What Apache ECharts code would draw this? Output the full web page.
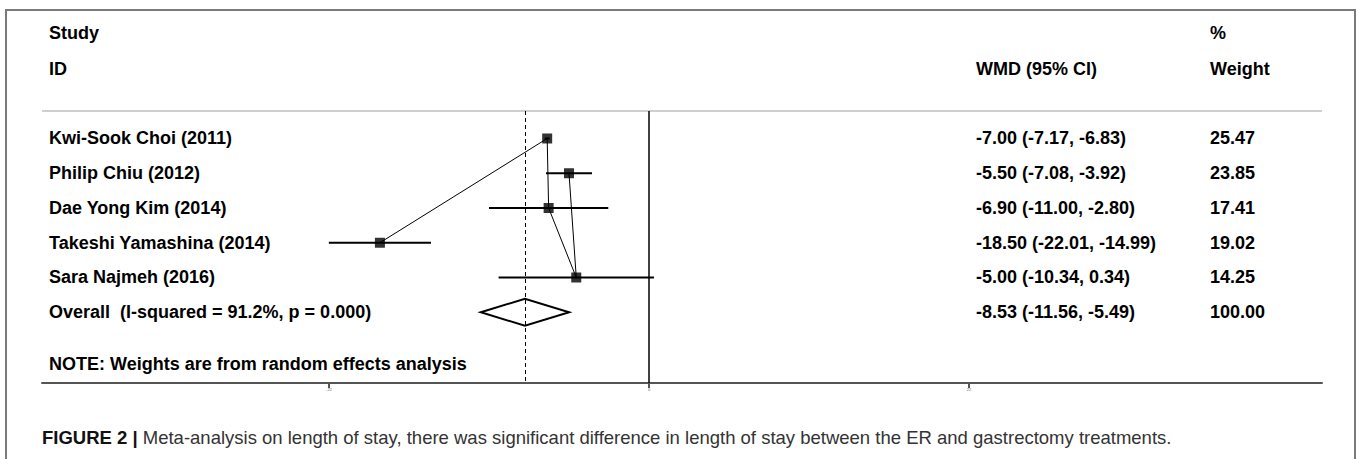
<!DOCTYPE html>
<html>
<head>
<meta charset="utf-8">
<title>Forest plot - length of stay</title>
<script src="https://cdn.jsdelivr.net/npm/echarts@6/dist/echarts.min.js"></script>
<style>
html, body { margin: 0; padding: 0; background: #fff; }
#main { width: 1357px; height: 459px; }
</style>
</head>
<body>
<div id="main"></div>
<script>
// studies, top to bottom
var studies = ['Kwi-Sook Choi (2011)', 'Philip Chiu (2012)', 'Dae Yong Kim (2014)', 'Takeshi Yamashina (2014)', 'Sara Najmeh (2016)'];
var wmd = [-7.00, -5.50, -6.90, -18.50, -5.00];
var ciLow = [-7.17, -7.08, -11.00, -22.01, -10.34];
var ciHigh = [-6.83, -3.92, -2.80, -14.99, 0.34];
var weights = [25.47, 23.85, 17.41, 19.02, 14.25];
// pooled (random effects)
var overallLabel = 'Overall  (I-squared = 91.2%, p = 0.000)';
var overallWmd = -8.53;
var overallLow = -11.56;
var overallHigh = -5.49;
var overallWeight = 100.00;
// order of the thin line that joins the squares in the original
var pathOrder = [3, 0, 2, 4, 1];
// x axis ticks
var xTicks = [-22, 0, 22];
var xTickLabels = ['-22', '0', '22'];

var FONT = '"Liberation Sans", Arial, sans-serif';
var overallRow = studies.length + 1;

function fmt(v) {
    return v.toFixed(2);
}

var chart = echarts.init(document.getElementById('main'), null, { renderer: 'svg' });

var ciData = studies.map(function (s, i) { return [ciLow[i], ciHigh[i], i + 1]; });
var pointData = studies.map(function (s, i) { return [wmd[i], i + 1]; });
var pathData = pathOrder.map(function (i) { return [wmd[i], i + 1]; });
var tableData = studies.map(function (s, i) {
    return [0, i + 1, s, fmt(wmd[i]) + ' (' + fmt(ciLow[i]) + ', ' + fmt(ciHigh[i]) + ')', fmt(weights[i])];
});
tableData.push([0, overallRow, overallLabel,
    fmt(overallWmd) + ' (' + fmt(overallLow) + ', ' + fmt(overallHigh) + ')', fmt(overallWeight)]);

function txt(x, y, s, size, weight) {
    return {
        type: 'text',
        x: x,
        y: y,
        style: {
            text: s,
            fontFamily: FONT,
            fontSize: size || 18,
            fontWeight: weight || 'bold',
            fill: '#000',
            verticalAlign: 'middle'
        }
    };
}

var option = {
    animation: false,
    grid: { left: 42, right: 35, top: 111, bottom: 76 },
    xAxis: {
        type: 'value',
        min: -41.731,
        max: 46.269,
        splitLine: { show: false },
        axisLine: { onZero: false, lineStyle: { color: '#555', width: 2 } },
        axisTick: { customValues: xTicks, length: 5, lineStyle: { color: '#555', width: 2 } },
        axisLabel: {
            customValues: xTicks,
            formatter: function (v) { return xTickLabels[xTicks.indexOf(v)]; },
            fontSize: 4,
            color: '#666',
            margin: 4
        }
    },
    yAxis: {
        type: 'value',
        inverse: true,
        min: 0.209,
        max: 8.036,
        show: false
    },
    graphic: [
        // outer frame
        { type: 'rect', shape: { x: 6, y: 10, width: 1349, height: 500 }, style: { fill: 'none', stroke: '#7a7a7a', lineWidth: 2 }, silent: true },
        // rule under the header
        { type: 'line', shape: { x1: 42, y1: 111, x2: 1322, y2: 111 }, style: { stroke: '#cfcfcf', lineWidth: 2 }, silent: true },
        txt(49, 33, 'Study'),
        txt(49, 69, 'ID'),
        txt(976, 69, 'WMD (95% CI)'),
        txt(1210, 33, '%'),
        txt(1210, 69, 'Weight'),
        txt(49, 364, 'NOTE: Weights are from random effects analysis'),
        {
            type: 'text',
            x: 42,
            y: 437,
            style: {
                text: '{b|FIGURE 2 |} Meta-analysis on length of stay, there was significant difference in length of stay between the ER and gastrectomy treatments.',
                fontFamily: FONT,
                fontSize: 18.5,
                fill: '#333',
                verticalAlign: 'middle',
                rich: {
                    b: { fontFamily: FONT, fontSize: 18.5, fontWeight: 'bold', fill: '#111' }
                }
            }
        }
    ],
    series: [
        {
            name: 'join',
            type: 'line',
            data: pathData,
            symbol: 'none',
            silent: true,
            z: 2,
            lineStyle: { color: '#000', width: 1 },
            markLine: {
                silent: true,
                symbol: 'none',
                label: { show: false },
                data: [
                    { xAxis: 0, lineStyle: { color: '#000', width: 1.5, type: 'solid' } },
                    { xAxis: overallWmd, lineStyle: { color: '#000', width: 1, type: [4, 3] } }
                ]
            }
        },
        {
            name: 'ci',
            type: 'custom',
            data: ciData,
            silent: true,
            z: 3,
            renderItem: function (params, api) {
                var a = api.coord([api.value(0), api.value(2)]);
                var b = api.coord([api.value(1), api.value(2)]);
                return {
                    type: 'line',
                    shape: { x1: a[0], y1: a[1], x2: b[0], y2: b[1] },
                    style: { stroke: '#000', lineWidth: 2 }
                };
            }
        },
        {
            name: 'WMD',
            type: 'scatter',
            data: pointData,
            symbol: 'rect',
            symbolSize: 10,
            silent: true,
            z: 4,
            itemStyle: { color: '#000' }
        },
        {
            name: 'overall',
            type: 'custom',
            data: [[overallLow, overallWmd, overallHigh, overallRow]],
            silent: true,
            z: 4,
            renderItem: function (params, api) {
                var l = api.coord([api.value(0), api.value(3)]);
                var c = api.coord([api.value(1), api.value(3)]);
                var r = api.coord([api.value(2), api.value(3)]);
                return {
                    type: 'polygon',
                    shape: { points: [[l[0], l[1]], [c[0], c[1] - 13.5], [r[0], r[1]], [c[0], c[1] + 13.5]] },
                    style: { fill: '#fff', stroke: '#000', lineWidth: 2 }
                };
            }
        },
        {
            name: 'table',
            type: 'custom',
            data: tableData,
            silent: true,
            renderItem: function (params, api) {
                var y = api.coord([0, api.value(1)])[1];
                var d = tableData[params.dataIndex];
                return {
                    type: 'group',
                    children: [txt(49, y, d[2]), txt(976, y, d[3]), txt(1210, y, d[4])]
                };
            }
        }
    ]
};

chart.setOption(option);
</script>
</body>
</html>
